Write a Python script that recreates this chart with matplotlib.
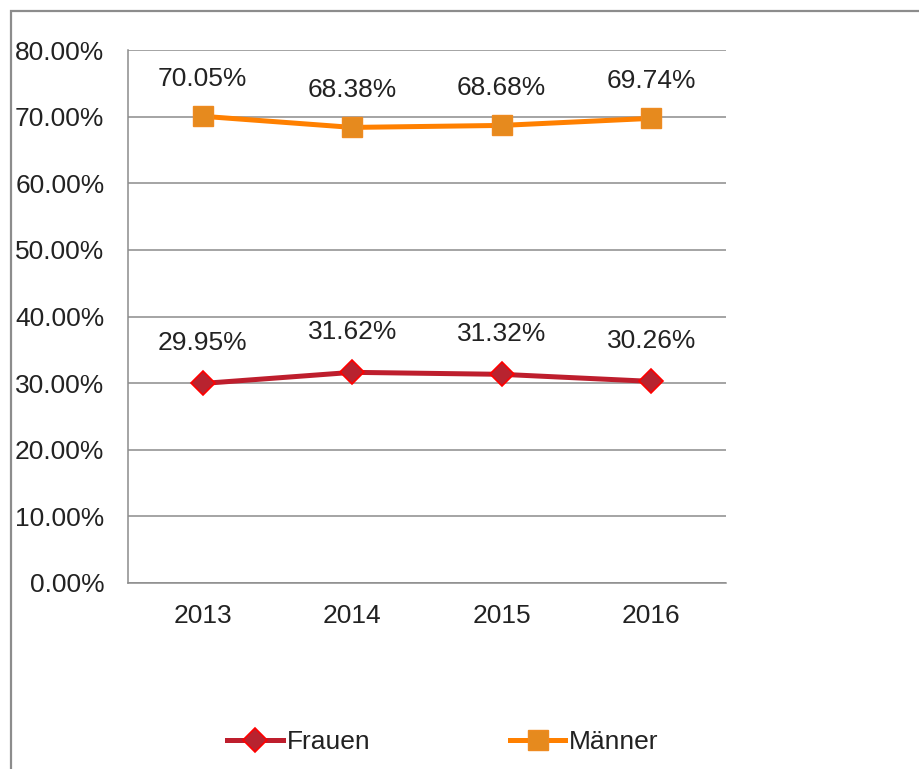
import matplotlib
matplotlib.use("Agg")
import matplotlib.pyplot as plt
from matplotlib.patches import Rectangle

years = ["2013", "2014", "2015", "2016"]
frauen = [29.95, 31.62, 31.32, 30.26]
maenner = [70.05, 68.38, 68.68, 69.74]
yticks = [0, 10, 20, 30, 40, 50, 60, 70, 80]

plt.rcParams['font.family'] = ['Liberation Sans', 'DejaVu Sans']
W, H = 919, 769
fig = plt.figure(figsize=(W/100, H/100), dpi=100)

# outer border
fig.patches.append(Rectangle((11/W, -0.1), 1.2, 1 - 11/H + 0.1, transform=fig.transFigure,
                             fill=False, edgecolor='#8c8c8c', linewidth=1.6))

ax = fig.add_axes([128/W, 1 - 583/H, (726-128)/W, (583-50)/H])
x = list(range(len(years)))
ax.plot(x, frauen, color='#BE1E2D', linewidth=3.6, marker='D', markersize=12,
        markerfacecolor='#B8232F', markeredgecolor='#FF0000', markeredgewidth=1.2,
        label='Frauen', zorder=3)
ax.plot(x, maenner, color='#FF8000', linewidth=3.6, marker='s', markersize=14,
        markerfacecolor='#E68A1E', markeredgecolor='#EE8A20', markeredgewidth=1,
        label='Männer', zorder=3)

for xi, v in zip(x, frauen):
    ax.annotate(f"{v:.2f}%", (xi, v), xytext=(0, 29), textcoords='offset points',
                ha='center', va='center', fontsize=19, color='#222222')
for xi, v in zip(x, maenner):
    ax.annotate(f"{v:.2f}%", (xi, v), xytext=(0, 27), textcoords='offset points',
                ha='center', va='center', fontsize=19, color='#222222')

ax.set_xlim(-0.5, 3.5)
ax.set_ylim(0, 80)
ax.set_yticks(yticks)
ax.set_yticklabels([f"{t:.2f}%" for t in yticks])
ax.set_xticks(x)
ax.set_xticklabels(years)
ax.tick_params(axis='both', length=0, labelsize=19, labelcolor='#222222')
ax.tick_params(axis='y', pad=17)
ax.tick_params(axis='x', pad=15)
ax.yaxis.grid(True, color='#8c8c8c', linewidth=1.1)
ax.set_axisbelow(True)
for s in ['top', 'right']:
    ax.spines[s].set_visible(False)
for s in ['left', 'bottom']:
    ax.spines[s].set_color('#8c8c8c')
    ax.spines[s].set_linewidth(1.1)

leg = fig.legend(loc='center', bbox_to_anchor=(443/W, 1 - 742/H), ncol=2, frameon=False,
                 fontsize=19, handlelength=2.1, handletextpad=0.15, columnspacing=5.3)
for t in leg.get_texts():
    t.set_color('#222222')

fig.savefig("out.png", dpi=100)
